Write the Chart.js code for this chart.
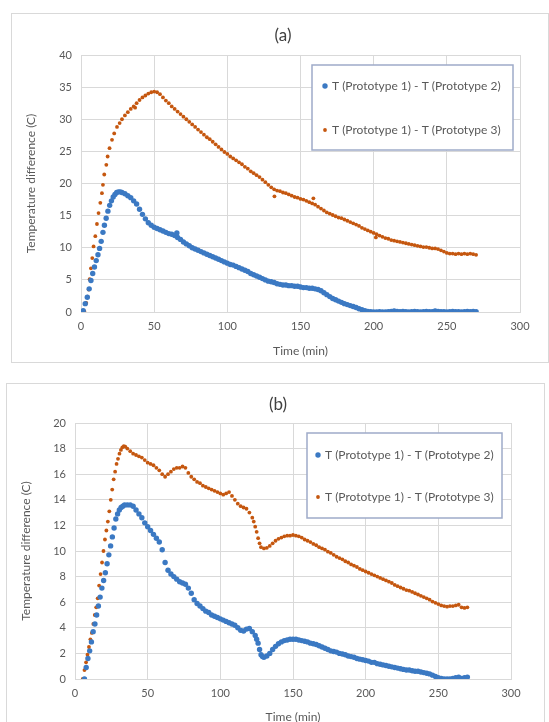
<!DOCTYPE html>
<html>
<head>
<meta charset="utf-8">
<script src="https://cdn.jsdelivr.net/npm/chart.js@4.4.1/dist/chart.umd.min.js"></script>
<style>
  html, body { margin: 0; padding: 0; background: #fff; overflow: hidden; }
  body { width: 549px; height: 722px; position: relative; }
  .box { position: absolute; border: 1px solid #d9d9d9; box-sizing: border-box; }
  canvas { position: absolute; }
</style>
</head>
<body>
<div class="box" style="left:11px;top:13px;width:538px;height:350px"></div>
<canvas id="chartA" width="536" height="349" style="left:12px;top:14px"></canvas>
<div class="box" style="left:6px;top:383px;width:539px;height:360px"></div>
<canvas id="chartB" width="537" height="345" style="left:7px;top:384px"></canvas>
<script>
// ---- chart (a) ----
const timeRiseA1 = [1.5, 2.9, 4.3, 5.6, 6.8, 8, 9.2, 10.4, 11.6, 12.7, 13.8, 15, 16, 17.2, 18.4, 19.6, 20.8, 22, 23.2, 24.4, 25.6, 26.8];
const tempRiseA1 = [0.2, 1.3, 2.3, 3.6, 4.9, 6.0, 7.0, 8.0, 8.9, 9.9, 11.0, 12.4, 13.5, 14.6, 15.7, 16.6, 17.3, 17.9, 18.3, 18.6, 18.7, 18.7];
const timeRiseA2 = [2.3, 3.6, 4.5, 5.2, 5.9, 6.8, 7.7, 8.6, 9.8, 10.9, 12, 13.2, 14.3, 15, 15.9, 17.3, 18.2, 19.5, 21.2, 22.7, 24.6, 26.4];
const tempRiseA2 = [0.1, 1.4, 2.4, 3.5, 5.1, 6.8, 8.4, 10.2, 11.8, 13.7, 15.4, 17, 18.5, 19.8, 21.4, 22.9, 24.2, 25.5, 26.8, 27.8, 28.8, 29.4];

const timeGridA = [
  28, 30, 32, 34, 36, 38, 40, 42, 44, 46,
  48, 50, 52, 54, 56, 58, 60, 62, 64, 66,
  68, 70, 72, 74, 76, 78, 80, 82, 84, 86,
  88, 90, 92, 94, 96, 98, 100, 102, 104, 106,
  108, 110, 112, 114, 116, 118, 120, 122, 124, 126,
  128, 130, 132, 134, 136, 138, 140, 142, 144, 146,
  148, 150, 152, 154, 156, 158, 160, 162, 164, 166,
  168, 170, 172, 174, 176, 178, 180, 182, 184, 186,
  188, 190, 192, 194, 196, 198, 200, 202, 204, 206,
  208, 210, 212, 214, 216, 218, 220, 222, 224, 226,
  228, 230, 232, 234, 236, 238, 240, 242, 244, 246,
  248, 250, 252, 254, 256, 258, 260, 262, 264, 266,
  268, 270
];
const tempGridA1 = [
  18.6, 18.4, 18.1, 17.8, 17.3, 16.8, 16.0, 15.2, 14.5, 13.9,
  13.5, 13.2, 13.0, 12.8, 12.6, 12.4, 12.2, 12.1, 11.9, 11.6,
  11.3, 10.9, 10.6, 10.3, 10.0, 9.8, 9.6, 9.4, 9.2, 9.0,
  8.8, 8.6, 8.4, 8.2, 8.0, 7.8, 7.6, 7.4, 7.3, 7.1,
  6.9, 6.7, 6.5, 6.3, 6.0, 5.8, 5.6, 5.4, 5.2, 5.0,
  4.8, 4.7, 4.6, 4.4, 4.3, 4.2, 4.2, 4.1, 4.1, 4.0,
  4.0, 3.9, 3.8, 3.8, 3.7, 3.7, 3.6, 3.5, 3.3, 3.0,
  2.7, 2.4, 2.1, 1.9, 1.7, 1.5, 1.3, 1.15, 1.0, 0.85,
  0.7, 0.5, 0.35, 0.2, 0.1, 0.05, 0, 0, 0.05, 0,
  0, 0.05, 0.1, 0.15, 0.1, 0.05, 0.1, 0.05, 0, 0.05,
  0.1, 0.05, 0, 0.05, 0.1, 0.05, 0.05, 0.15, 0.1, 0.05,
  0.05, 0, 0.05, 0.1, 0.05, 0.05, 0, 0.05, 0.1, 0.05,
  0.1, 0.05
];
const tempGridA2 = [
  30.0, 30.6, 31.1, 31.6, 32.0, 32.5, 33.0, 33.4, 33.7, 34.0,
  34.2, 34.3, 34.2, 33.9, 33.4, 32.9, 32.5, 32.0, 31.6, 31.2,
  30.8, 30.4, 30.0, 29.6, 29.2, 28.8, 28.4, 28.0, 27.6, 27.2,
  26.9, 26.5, 26.1, 25.7, 25.3, 24.9, 24.6, 24.2, 23.9, 23.6,
  23.3, 23.0, 22.6, 22.3, 21.9, 21.6, 21.3, 21.0, 20.6, 20.2,
  19.8, 19.4, 19.1, 18.9, 18.8, 18.6, 18.5, 18.3, 18.1, 17.9,
  17.8, 17.6, 17.5, 17.3, 17.1, 16.9, 16.7, 16.4, 16.1, 15.8,
  15.5, 15.3, 15.1, 14.9, 14.7, 14.6, 14.4, 14.2, 14.0, 13.8,
  13.6, 13.4, 13.1, 12.9, 12.7, 12.5, 12.3, 12.1, 11.9, 11.7,
  11.5, 11.4, 11.2, 11.1, 11.0, 10.9, 10.8, 10.7, 10.6, 10.5,
  10.4, 10.3, 10.2, 10.1, 10.1, 10.0, 9.9, 9.9, 9.8, 9.6,
  9.4, 9.2, 9.1, 9.1, 9.0, 9.1, 9.0, 9.1, 9.0, 9.1,
  9.0, 8.9
];
// stray points off the main trend
const timeExtraA1 = [65.5];
const tempExtraA1 = [12.3];
const timeExtraA2 = [37, 132.2, 158.8, 201.5];
const tempExtraA2 = [31.8, 18.0, 17.7, 11.6];

// ---- chart (b) ----
const timeRiseB1 = [6.5, 7.7, 8.9, 10.1, 11.3, 12.5, 13.7, 14.9, 16.1, 17.3, 18.5, 19.7, 20.9, 22.1, 23.3, 24.5, 25.7, 26.9, 28.1, 29.3, 30.5, 31.7, 32.9, 34.1];
const tempRiseB1 = [0, 0.9, 1.6, 2.2, 2.9, 3.7, 4.3, 5.0, 5.7, 6.4, 7.1, 7.7, 8.3, 9.0, 9.7, 10.4, 11.1, 11.8, 12.5, 12.9, 13.2, 13.4, 13.5, 13.6];
const timeRiseB2 = [5.3, 6.5, 7.6, 8.6, 9.6, 10.6, 11.6, 12.6, 13.6, 14.6, 15.6, 16.6, 17.6, 18.6, 19.6, 20.6, 21.6, 22.6, 23.6, 24.6, 25.6, 26.6, 27.6, 28.6, 29.6, 30.6, 31.6, 32.6, 33.6, 34.6];
const tempRiseB2 = [0, 0.7, 1.3, 1.9, 2.5, 3.1, 3.6, 4.3, 5.0, 5.6, 6.3, 7.3, 8.2, 9.1, 10.0, 10.9, 11.6, 12.3, 13.1, 14.0, 14.8, 15.6, 16.2, 16.8, 17.2, 17.6, 17.9, 18.1, 18.2, 18.15];

const timeGridB = [
  36, 38, 40, 42, 44, 46, 48, 50, 52, 54,
  56, 58, 60, 62, 64, 66, 68, 70, 72, 74,
  76, 78, 80, 82, 84, 86, 88, 90, 92, 94,
  96, 98, 100, 102, 104, 106, 108, 110, 112, 114,
  116, 118, 120, 122, 124, 126, 128, 130, 132, 134,
  136, 138, 140, 142, 144, 146, 148, 150, 152, 154,
  156, 158, 160, 162, 164, 166, 168, 170, 172, 174,
  176, 178, 180, 182, 184, 186, 188, 190, 192, 194,
  196, 198, 200, 202, 204, 206, 208, 210, 212, 214,
  216, 218, 220, 222, 224, 226, 228, 230, 232, 234,
  236, 238, 240, 242, 244, 246, 248, 250, 252, 254,
  256, 258, 260, 262, 264, 266, 268, 270
];
const tempGridB1 = [
  13.6, 13.6, 13.5, 13.2, 12.9, 12.6, 12.2, 11.9, 11.6, 11.3,
  11.0, 10.7, 10.1, 9.1, 8.5, 8.2, 8.0, 7.8, 7.6, 7.5,
  7.4, 7.1, 6.7, 6.2, 5.9, 5.7, 5.5, 5.3, 5.2, 5.0,
  4.9, 4.8, 4.7, 4.6, 4.5, 4.4, 4.3, 4.2, 4.0, 3.8,
  3.75, 3.9, 3.95, 3.7, 3.4, 2.8, 1.9, 1.7, 1.8, 2.0,
  2.3, 2.55, 2.75, 2.9, 3.0, 3.05, 3.1, 3.1, 3.1, 3.05,
  3.0, 2.95, 2.9, 2.8, 2.75, 2.7, 2.6, 2.5, 2.4, 2.3,
  2.2, 2.15, 2.1, 2.0, 1.95, 1.9, 1.8, 1.75, 1.7, 1.6,
  1.55, 1.5, 1.45, 1.4, 1.3, 1.3, 1.2, 1.15, 1.1, 1.05,
  1.0, 0.95, 0.9, 0.85, 0.8, 0.75, 0.7, 0.7, 0.65, 0.6,
  0.6, 0.55, 0.5, 0.45, 0.4, 0.3, 0.2, 0.1, 0.05, 0,
  0, 0, 0.05, 0.1, 0.15, 0.05, 0.1, 0.15
];
const tempGridB2 = [
  18.0, 17.8, 17.6, 17.5, 17.4, 17.3, 17.1, 16.9, 16.8, 16.7,
  16.5, 16.3, 16.0, 15.8, 16.0, 16.2, 16.4, 16.5, 16.5, 16.6,
  16.5, 16.1, 15.8, 15.6, 15.4, 15.3, 15.1, 15.0, 14.9, 14.8,
  14.7, 14.6, 14.5, 14.4, 14.5, 14.6, 14.3, 14.0, 13.7, 13.5,
  13.4, 13.3, 13.0, 12.6, 11.9, 11.0, 10.3, 10.2, 10.25, 10.4,
  10.6, 10.8, 10.95, 11.05, 11.15, 11.2, 11.2, 11.25, 11.2, 11.15,
  11.05, 10.9, 10.8, 10.7, 10.55, 10.45, 10.3, 10.2, 10.1, 9.95,
  9.85, 9.7, 9.55, 9.45, 9.35, 9.2, 9.1, 8.95, 8.85, 8.75,
  8.6, 8.5, 8.4, 8.3, 8.2, 8.1, 8.0, 7.9, 7.8, 7.7,
  7.6, 7.5, 7.35, 7.25, 7.15, 7.05, 6.95, 6.9, 6.8, 6.7,
  6.6, 6.5, 6.4, 6.3, 6.2, 6.05, 5.95, 5.85, 5.75, 5.7,
  5.65, 5.7, 5.7, 5.75, 5.8, 5.6, 5.55, 5.6
];
// extra samples on the sudden drop near 125 min
const timeExtraB1 = [125, 127, 129];
const tempExtraB1 = [3.1, 2.3, 1.75];
const timeExtraB2 = [123, 125, 127];
const tempExtraB2 = [12.3, 11.5, 10.6];

const seriesLabels = ['T (Prototype 1) - T (Prototype 2)', 'T (Prototype 1) - T (Prototype 3)'];
const xTicks = [0, 50, 100, 150, 200, 250, 300];

const BLUE = '#3b79c3';
const ORANGE = '#c5570f';
const TEXT = '#595959';
const GRID = '#d9d9d9';
const FONT = 'Lato, "Open Sans", sans-serif';

function toPoints(times, temps) {
    return times.map((t, i) => ({ x: t, y: temps[i] }));
}

// draws the framed legend and the "(a)"/"(b)" heading
const excelDecor = {
    id: 'excelDecor',
    afterDraw(chart, args, o) {
        const ctx = chart.ctx;
        ctx.save();
        ctx.fillStyle = '#404040';
        ctx.font = '17px ' + FONT;
        ctx.textAlign = 'center';
        ctx.textBaseline = 'middle';
        ctx.fillText(o.title, o.titleX, o.titleY);

        const b = o.box;
        ctx.fillStyle = '#ffffff';
        ctx.fillRect(b[0], b[1], b[2], b[3]);
        ctx.strokeStyle = '#9eabc9';
        ctx.lineWidth = 1.5;
        ctx.strokeRect(b[0], b[1], b[2], b[3]);

        ctx.font = '12px ' + FONT;
        ctx.textAlign = 'left';
        chart.data.datasets.forEach((ds, i) => {
            const y = o.rows[i];
            ctx.fillStyle = ds.backgroundColor;
            ctx.beginPath();
            ctx.arc(o.markX, y, ds.pointRadius, 0, Math.PI * 2);
            ctx.fill();
            ctx.fillStyle = TEXT;
            ctx.fillText(ds.label, o.textX, y + 0.5);
        });
        ctx.restore();
    }
};

function makeChart(id, sets, yMax, yStep, area, decor) {
    const canvas = document.getElementById(id);
    const ctx = canvas.getContext('2d');
    return new Chart(ctx, {
        type: 'scatter',
        data: {
            datasets: [{
                label: seriesLabels[0],
                data: sets[0],
                backgroundColor: BLUE,
                borderWidth: 0,
                pointRadius: 2.7
            }, {
                label: seriesLabels[1],
                data: sets[1],
                backgroundColor: ORANGE,
                borderWidth: 0,
                pointRadius: 1.9
            }]
        },
        options: {
            responsive: false,
            animation: false,
            devicePixelRatio: 1,
            layout: { padding: { left: 0, top: area.top, right: area.right, bottom: 0 } },
            plugins: {
                legend: { display: false },
                tooltip: { enabled: false },
                excelDecor: decor
            },
            scales: {
                x: {
                    type: 'linear',
                    min: 0,
                    max: 300,
                    afterBuildTicks: scale => { scale.ticks = xTicks.map(v => ({ value: v })); },
                    afterFit: scale => { scale.height = area.xHeight; },
                    grid: { color: GRID, drawTicks: false },
                    border: { color: GRID },
                    ticks: { color: TEXT, padding: 8, font: { family: FONT, size: 11 } },
                    title: {
                        display: true,
                        text: 'Time (min)',
                        color: TEXT,
                        padding: { top: 0, bottom: area.xTitlePad },
                        font: { family: FONT, size: 12 }
                    }
                },
                y: {
                    min: 0,
                    max: yMax,
                    ticks: { stepSize: yStep, color: TEXT, padding: 9, font: { family: FONT, size: 11 } },
                    afterFit: scale => { scale.width = area.yWidth; },
                    grid: { color: GRID, drawTicks: false },
                    border: { color: GRID },
                    title: {
                        display: true,
                        text: 'Temperature difference (C)',
                        color: TEXT,
                        padding: { top: 12, bottom: 0 },
                        font: { family: FONT, size: 12 }
                    }
                }
            }
        },
        plugins: [excelDecor]
    });
}

const chartA = makeChart('chartA', [
    toPoints(timeRiseA1, tempRiseA1).concat(toPoints(timeGridA, tempGridA1), toPoints(timeExtraA1, tempExtraA1)),
    toPoints(timeRiseA2, tempRiseA2).concat(toPoints(timeGridA, tempGridA2), toPoints(timeExtraA2, tempExtraA2))
], 40, 5,
    { top: 41, right: 28, xHeight: 51, yWidth: 69, xTitlePad: 5 },
    { title: '(a)', titleX: 271, titleY: 22, box: [300, 51, 201, 85], markX: 313, textX: 320, rows: [72, 116] });

const chartB = makeChart('chartB', [
    toPoints(timeRiseB1, tempRiseB1).concat(toPoints(timeGridB, tempGridB1), toPoints(timeExtraB1, tempExtraB1)),
    toPoints(timeRiseB2, tempRiseB2).concat(toPoints(timeGridB, tempGridB2), toPoints(timeExtraB2, tempExtraB2))
], 20, 2,
    { top: 39, right: 33, xHeight: 50, yWidth: 68, xTitlePad: 5 },
    { title: '(b)', titleX: 271, titleY: 21, box: [300, 49, 195, 85], markX: 311, textX: 318, rows: [71, 113] });
</script>
</body>
</html>
